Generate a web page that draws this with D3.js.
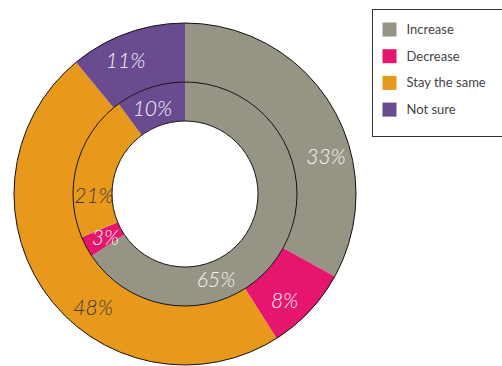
<!DOCTYPE html>
<html>
<head>
<meta charset="utf-8">
<script src="https://cdn.jsdelivr.net/npm/d3@7"></script>
<style>
  body { margin: 0; background: #fff; }
  svg { display: block; }
</style>
</head>
<body>
<div id="chart"></div>
<script>
// data
var categories = ["Increase", "Decrease", "Stay the same", "Not sure"];
var outerValues = [33, 8, 48, 11];
var innerValues = [65, 3, 21, 10];
var colors = ["#969585", "#e6156e", "#e8981b", "#6a4b8f"];

// where the labels sit (degrees clockwise from 12 o'clock)
var outerLabelAngles = [75, 137, 219, 336];
var innerLabelAngles = [160, 241, 269, 339];

var width = 502, height = 366;
var cx = 185, cy = 194;
var rOuter = 171, rMid = 112, rHole = 73;

var svg = d3.select("#chart")
  .append("svg")
    .attr("width", width)
    .attr("height", height);

var color = d3.scaleOrdinal().domain(categories).range(colors);

var pie = d3.pie().sort(null).value(function(d) { return d.value; });

function rows(vals) {
  return vals.map(function(v, i) { return {cat: categories[i], value: v}; });
}

var g = svg.append("g")
  .attr("transform", "translate(" + cx + "," + cy + ")");

// outer ring
var outerArc = d3.arc().innerRadius(rMid).outerRadius(rOuter);
g.selectAll("path.outer")
  .data(pie(rows(outerValues)))
  .enter()
  .append("path")
    .attr("class", "outer")
    .attr("d", outerArc)
    .style("fill", function(d) { return color(d.data.cat); });

// inner ring
var innerArc = d3.arc().innerRadius(rHole).outerRadius(rMid);
g.selectAll("path.inner")
  .data(pie(rows(innerValues)))
  .enter()
  .append("path")
    .attr("class", "inner")
    .attr("d", innerArc)
    .style("fill", function(d) { return color(d.data.cat); });

// thin black rings
[rOuter, rMid].forEach(function(r) {
  g.append("circle")
    .attr("r", r)
    .style("fill", "none")
    .style("stroke", "#111")
    .style("stroke-width", 1);
});
g.append("circle")
  .attr("r", rHole)
  .style("fill", "#fff")
  .style("stroke", "#111")
  .style("stroke-width", 1);

// percentage labels
function addLabels(vals, angles, radius, cls) {
  g.selectAll("text." + cls)
    .data(vals)
    .enter()
    .append("text")
      .attr("class", cls)
      .attr("x", function(d, i) { return radius * Math.sin(angles[i] * Math.PI / 180); })
      .attr("y", function(d, i) { return -radius * Math.cos(angles[i] * Math.PI / 180); })
      .attr("dy", "0.35em")
      .attr("text-anchor", "middle")
      .style("font-family", "Lato, 'Open Sans', sans-serif")
      .style("font-style", "italic")
      .style("font-weight", 300)
      .style("font-size", "21px")
      .style("fill", function(d, i) { return categories[i] == "Stay the same" ? "#3a3a3a" : "#f6f6f6"; })
      .text(function(d) { return d + "%"; });
}
addLabels(outerValues, outerLabelAngles, 146, "olab");
addLabels(innerValues, innerLabelAngles, 91, "ilab");

// legend
var legend = svg.append("g").attr("transform", "translate(372.5,9.5)");
legend.append("rect")
  .attr("width", 140)
  .attr("height", 127)
  .style("fill", "#fff")
  .style("stroke", "#333")
  .style("stroke-width", 1);

var item = legend.selectAll("g.item")
  .data(categories)
  .enter()
  .append("g")
    .attr("class", "item")
    .attr("transform", function(d, i) { return "translate(10," + (13 + i * 26.7) + ")"; });

item.append("rect")
  .attr("width", 14)
  .attr("height", 14)
  .style("fill", function(d) { return color(d); });

item.append("text")
  .attr("x", 24)
  .attr("y", 7)
  .attr("dy", "0.35em")
  .style("font-family", "Lato, 'Noto Sans', sans-serif")
  .style("font-size", "13px")
  .style("fill", "#444")
  .text(function(d) { return d; });
</script>
</body>
</html>
